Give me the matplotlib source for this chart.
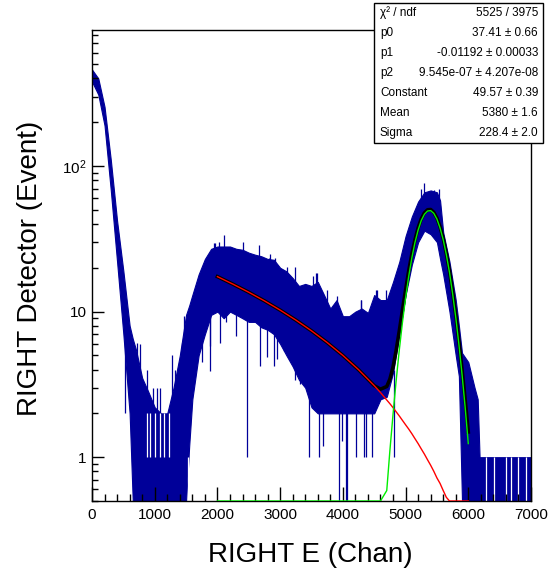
import numpy as np
import matplotlib
matplotlib.use('Agg')
import matplotlib.pyplot as plt
from matplotlib.ticker import MultipleLocator, LogLocator, FixedLocator, FixedFormatter, NullFormatter
from matplotlib.patches import Rectangle

plt.rcParams['font.family'] = ['Liberation Sans', 'DejaVu Sans']
plt.rcParams['mathtext.fontset'] = 'custom'
plt.rcParams['mathtext.rm'] = 'Liberation Sans'

# histogram band (upper / lower edge of the blue fill), channel -> counts
env_x = [0, 100, 200, 300, 400, 500, 600, 650, 700, 800, 900, 1000, 1100, 1200,
         1300, 1400, 1500, 1550, 1600, 1700, 1800, 1900, 2000, 2100, 2200, 2300,
         2400, 2500, 2600, 2700, 2800, 2900, 3000, 3100, 3200, 3300, 3400, 3500,
         3600, 3700, 3800, 3900, 4000, 4100, 4200, 4300, 4400, 4500, 4600, 4700,
         4800, 4900, 5000, 5100, 5200, 5300, 5400, 5500, 5550, 5600, 5700, 5800,
         5850, 5900, 6000, 6100, 6150, 6180, 6300, 6500, 6700, 6900, 7000]
env_hi = [460, 400, 255, 110, 42, 19, 8, 6.5, 5.5, 3.5, 2.8, 2.2, 2.0, 2.0,
          3.0, 5.0, 9.5, 11, 13, 18, 23, 27, 28, 28, 28, 27,
          26.6, 25.4, 24.6, 24, 23, 22.7, 20, 18.9, 17, 15, 15.5, 15,
          16, 13, 10.5, 12, 9.3, 9.3, 10, 10.5, 9.8, 13, 12, 12,
          16, 22, 33, 45, 57, 66, 68, 66, 58, 35, 22, 12,
          8, 5.2, 4.5, 3.0, 2.5, 1.0, 1.0, 1.0, 1.0, 1.0, 1.0]
env_lo = [380, 310, 190, 68, 22, 7, 2, 0.5, 0.5, 0.5, 0.5, 0.5, 0.5, 0.5,
          0.5, 0.5, 0.5, 1.2, 2.5, 5, 7, 9.5, 10, 9, 10, 9.5,
          9, 8.5, 8.5, 7.8, 7.5, 7, 6, 5, 4.2, 3.4, 3, 2.2,
          2, 2, 2, 2, 2, 2, 2, 2, 2, 2, 2.5, 2.6,
          3.8, 7, 13, 21, 30, 36, 34, 30, 23, 18, 10, 5,
          3.6, 0.5, 0.5, 0.5, 0.5, 0.5, 0.5, 0.5, 0.5, 0.5, 0.5]

# single bins sticking out of the band: (channel, low, high)
blue_bins = [(527, 2.0, 8), (714, 2, 6.1), (767, 1.5, 6.0), (880, 1, 4.0), (980, 1, 3.0),
             (1034, 1, 3.0), (1077, 1, 3.0), (1278, 1, 5.0), (1331, 1, 4.0),
             (1433, 2, 6.1), (1460, 3, 9.3), (1760, 4.5, 12), (1886, 3.9, 12),
             (1886, 5.8, 12), (1940, 15, 29.6), (1966, 15, 29.6), (2020, 15, 30),
             (2045, 6.1, 15), (2100, 15, 33.6), (2140, 8.5, 15), (2290, 6.8, 15),
             (2400, 15, 30), (2472, 1.0, 12), (2670, 15, 28.5), (2685, 4.2, 12),
             (2790, 4.9, 12), (2818, 15, 23.4), (2845, 15, 25), (2897, 4.2, 12),
             (2924, 12, 23.5), (2951, 4.7, 10), (3058, 5.4, 10), (3111, 12, 20.4),
             (3244, 10, 20.4), (3244, 3.4, 8), (3324, 3.2, 8), (3457, 1.0, 3),
             (3520, 10, 17.5), (3537, 2.2, 6), (3564, 10, 18.5), (3590, 10, 18.5),
             (3617, 1.0, 3), (3680, 1.2, 3), (3750, 8, 14.1), (3910, 8, 12.7),
             (3937, 0.5, 3), (3990, 1.3, 3), (4044, 0.5, 3), (4070, 0.5, 3),
             (4204, 1.0, 3), (4283, 6, 12.1), (4284, 6, 12.1), (4330, 1.0, 3),
             (4364, 1.0, 3), (4460, 1.0, 3), (4523, 6, 14.1), (4550, 6, 14.1),
             (4680, 6, 14), (4815, 1.0, 4), (5250, 40, 70), (5295, 40, 76),
             (5450, 40, 68), (5535, 40, 70)]
# empty columns inside the band
white_bins = [(870, 1, 2), (920, 1, 2), (1000, 1, 2), (1080, 1, 2), (1150, 1, 2),
              (1230, 1, 2), (1530, 0.5, 1.0), (6280, 0.5, 1), (6413, 0.5, 1),
              (6600, 0.5, 1), (6680, 0.5, 1), (6787, 0.5, 1), (6920, 0.5, 1)]

# fit curves
fit_x = [2000, 2250, 2500, 2750, 3000, 3250, 3500, 3750, 4000, 4250, 4500, 4600,
         4700, 4750, 4800, 4850, 4900, 4950, 5000, 5050, 5100, 5150, 5200, 5250,
         5300, 5350, 5400, 5450, 5500, 5550, 5600, 5650, 5700, 5750, 5800, 5850,
         5900, 5950, 6000]
bkg_y = [17.39, 15.42, 13.58, 11.85, 10.24, 8.75, 7.38, 6.13, 5.00, 3.99, 3.10, 2.78,
         2.47, 2.33, 2.19, 2.05, 1.92, 1.79, 1.67, 1.56, 1.45, 1.34, 1.24, 1.14,
         1.05, 0.96, 0.88, 0.80, 0.72, 0.66, 0.59, 0.53, 0.48, 0.43, 0.38, 0.34,
         0.31, 0.28, 0.25]
peak_y = [0, 0, 0, 0, 0, 0, 0, 0, 0, 0, 0, 0.15,
          0.59, 1.11, 1.97, 3.36, 5.45, 8.42, 12.41, 17.44, 23.37, 29.84, 36.3, 42.2,
          46.6, 49.1, 49.4, 47.3, 43.2, 37.5, 31.2, 24.6, 18.6, 13.3, 9.13, 5.97,
          3.71, 2.20, 1.24]

stats_rows = [('χ² / ndf', '5525 / 3975'),
              ('p0', '37.41 ± 0.66'),
              ('p1', '-0.01192 ± 0.00033'),
              ('p2', '9.545e-07 ± 4.207e-08'),
              ('Constant', '49.57 ± 0.39'),
              ('Mean', '5380 ± 1.6'),
              ('Sigma', '228.4 ± 2.0')]

BLUE = '#000099'
YMIN, YMAX = 0.5, 860
W, H = 549, 579

fig = plt.figure(figsize=(W / 100, H / 100), dpi=100)
ax = fig.add_axes([92 / W, 1 - 501 / H, (531 - 92) / W, (501 - 30) / H])
ax.set_yscale('log')
ax.set_xlim(0, 7000)
ax.set_ylim(YMIN, YMAX)

ax.fill_between(env_x, env_lo, env_hi, color=BLUE, lw=0.8, zorder=1)
bx, blo, bhi = zip(*blue_bins)
ax.vlines(bx, blo, bhi, color=BLUE, lw=0.9, zorder=1)
wx, wlo, whi = zip(*white_bins)
ax.vlines(wx, wlo, whi, color='white', lw=0.9, zorder=1.5)

bkg = np.array(bkg_y)
peak = np.array(peak_y)
ax.plot(fit_x, np.maximum(bkg + peak, YMIN), color='black', lw=2.6, zorder=3)
ax.plot(fit_x, np.maximum(bkg, YMIN), color='#ff0000', lw=1.0, zorder=4)
ax.plot(fit_x, np.maximum(peak, YMIN), color='#00ee00', lw=1.0, zorder=4)

ax.xaxis.set_major_locator(MultipleLocator(1000))
ax.xaxis.set_minor_locator(MultipleLocator(200))
ax.yaxis.set_major_locator(FixedLocator([1, 10, 100]))
ax.yaxis.set_major_formatter(FixedFormatter(['1', '10', r'$\mathregular{10^{2}}$']))
ax.yaxis.set_minor_locator(LogLocator(subs=np.arange(2, 10)))
ax.yaxis.set_minor_formatter(NullFormatter())
ax.tick_params(which='both', direction='in', top=False, right=False, width=1, labelsize=11)
ax.tick_params(axis='x', which='major', length=10, pad=5)
ax.tick_params(axis='x', which='minor', length=5)
ax.tick_params(axis='y', which='major', length=8.5, pad=4)
ax.tick_params(axis='y', which='minor', length=4.5)
for s in ax.spines.values():
    s.set_linewidth(1)

fig.text(310 / W, 1 - 555 / H, 'RIGHT E (Chan)', ha='center', va='center', fontsize=20)
fig.text(30 / W, 1 - 268 / H, 'RIGHT Detector (Event)', ha='center', va='center',
         rotation=90, fontsize=20)

# stats box
bx0, bx1, by0, by1 = 374, 543, 3, 143
fig.patches.append(Rectangle((bx0 / W, 1 - by1 / H), (bx1 - bx0) / W, (by1 - by0) / H,
                             transform=fig.transFigure, facecolor='white',
                             edgecolor='black', lw=1, zorder=10))
row_h = (by1 - by0) / len(stats_rows)
for i, (lab, val) in enumerate(stats_rows):
    yc = 1 - (by0 + row_h * (i + 0.5)) / H
    fig.text(380 / W, yc, lab, ha='left', va='center', fontsize=8.5, zorder=11)
    fig.text(538 / W, yc, val, ha='right', va='center', fontsize=8.5, zorder=11)

fig.savefig('out.png', dpi=100)
